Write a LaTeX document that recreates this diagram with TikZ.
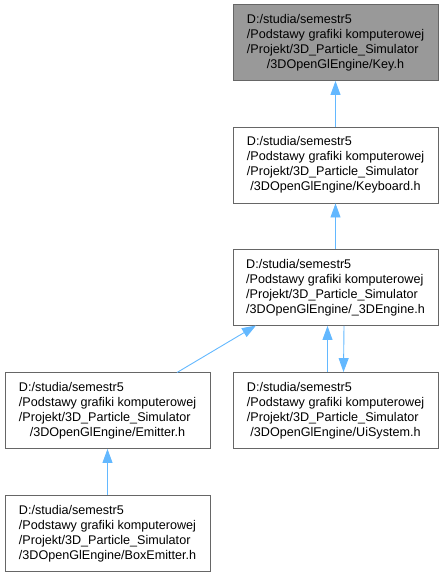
\documentclass[tikz,border=0pt]{standalone}
\usepackage{fontspec}
\setmainfont{Liberation Sans}
\usetikzlibrary{arrows.meta}
\definecolor{edgeblue}{HTML}{63B8FF}
\definecolor{boxline}{HTML}{666666}
\definecolor{selfill}{HTML}{999999}
\newcommand{\flabel}[1]{\begin{tabular}{@{}l@{}}D:/studia/semestr5\\/Podstawy grafiki komputerowej\\/Projekt/3D\_Particle\_Simulator\\\multicolumn{1}{@{}c@{}}{/3DOpenGlEngine/#1}\end{tabular}}
\tikzset{
  filebox/.style={draw=boxline, line width=0.9pt, fill=white, minimum width=205pt, minimum height=76pt, inner sep=0pt, font=\fontsize{12.6}{15}\selectfont, text=black},
  selbox/.style={filebox, fill=selfill},
  dep/.style={draw=edgeblue, line width=0.9pt, -{Triangle[length=14pt,width=10pt]}, color=edgeblue}
}
\begin{document}
\begin{tikzpicture}[x=1pt,y=-1pt]
\useasboundingbox (0,0) rectangle (444,576);
\node[selbox] (key) at (335.5,42.5) {\flabel{Key.h}};
\node[filebox] (kbd) at (335.5,165) {\flabel{Keyboard.h}};
\node[filebox] (eng) at (335.5,287.5) {\flabel{\_3DEngine.h}};
\node[filebox] (emit) at (107.5,410.5) {\flabel{Emitter.h}};
\node[filebox] (ui) at (335.5,410.5) {\flabel{UiSystem.h}};
\node[filebox] (box) at (107.5,533.5) {\flabel{BoxEmitter.h}};
\coordinate (emitTop) at (177,372.5);
\coordinate (engBotL) at (256,325.5);
\draw[dep] (kbd.north) -- (key.south);
\draw[dep] (eng.north) -- (kbd.south);
\draw[dep] (emitTop) -- (engBotL);
\draw[dep] ([xshift=-8pt]ui.north) -- ([xshift=-8pt]eng.south);
\draw[dep] ([xshift=8.5pt]eng.south) -- ([xshift=8pt]ui.north);
\draw[dep] (box.north) -- (emit.south);
\end{tikzpicture}
\end{document}
